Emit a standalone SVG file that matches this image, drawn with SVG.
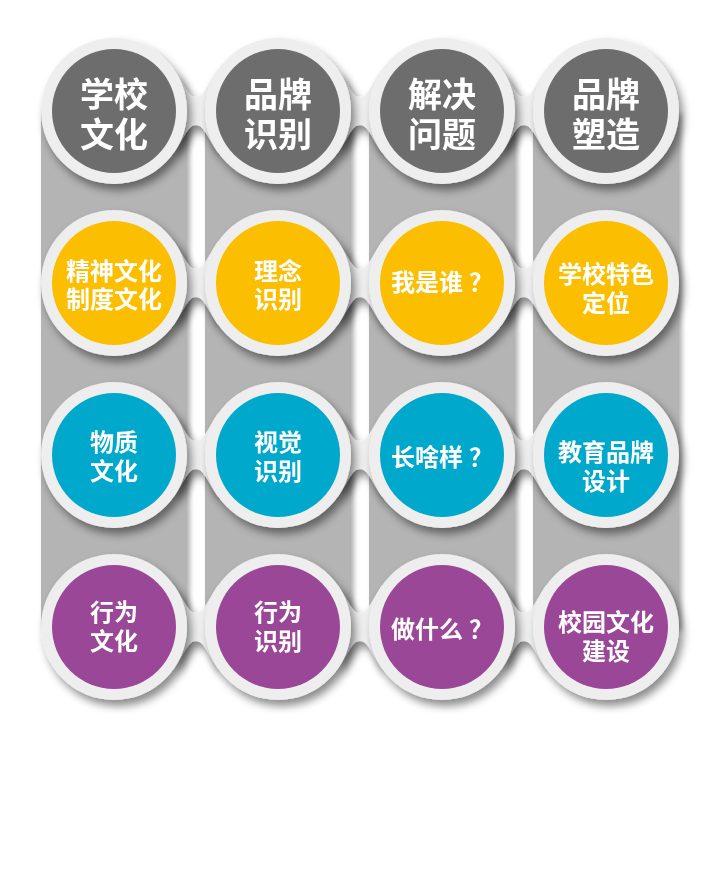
<svg xmlns="http://www.w3.org/2000/svg" xmlns:xlink="http://www.w3.org/1999/xlink" width="720" height="870" viewBox="0 0 720 870">
<style>
.col{fill:#b4b4b4}
.ring{fill:#eeeeee}
.neck{fill:#eeeeee}
.t{font-family:"Noto Sans CJK SC","Noto Sans",sans-serif;font-weight:700;fill:#ffffff;text-anchor:middle;dominant-baseline:central}
.big{font-size:34px}
.sm{font-size:24px}
.gray{fill:#6e6d6d}
.yel{fill:#fbbe00}
.cyan{fill:#00a8cc}
.pur{fill:#9b4797}
</style>
<defs>
<filter id="sh" x="-30%" y="-30%" width="160%" height="160%">
<feDropShadow dx="4" dy="6" stdDeviation="4" flood-color="#000" flood-opacity="0.45"/>
</filter>
<filter id="shc" x="-30%" y="-30%" width="160%" height="160%">
<feDropShadow dx="3" dy="3" stdDeviation="2.5" flood-color="#000" flood-opacity="0.3"/>
</filter>
<path id="neckp" d="M60,-42 C71,-26 74,-14 82,-14 C90,-14 93,-26 104,-42 L104,42 C93,26 90,14 82,14 C74,14 71,26 60,42 Z"/>
</defs>
<rect width="720" height="870" fill="#ffffff"/>
<g id="columns" filter="url(#shc)">
<rect class="col" x="41" y="111" width="146" height="516"/>
<rect class="col" x="205" y="111" width="146" height="516"/>
<rect class="col" x="369" y="111" width="146" height="516"/>
<rect class="col" x="533" y="111" width="146" height="516"/>
</g>
<g id="connectors" filter="url(#sh)">
<use xlink:href="#neckp" href="#neckp" class="neck" transform="translate(114,111)"/>
<use xlink:href="#neckp" href="#neckp" class="neck" transform="translate(278,111)"/>
<use xlink:href="#neckp" href="#neckp" class="neck" transform="translate(442,111)"/>
<use xlink:href="#neckp" href="#neckp" class="neck" transform="translate(114,283)"/>
<use xlink:href="#neckp" href="#neckp" class="neck" transform="translate(278,283)"/>
<use xlink:href="#neckp" href="#neckp" class="neck" transform="translate(442,283)"/>
<use xlink:href="#neckp" href="#neckp" class="neck" transform="translate(114,455)"/>
<use xlink:href="#neckp" href="#neckp" class="neck" transform="translate(278,455)"/>
<use xlink:href="#neckp" href="#neckp" class="neck" transform="translate(442,455)"/>
<use xlink:href="#neckp" href="#neckp" class="neck" transform="translate(114,627)"/>
<use xlink:href="#neckp" href="#neckp" class="neck" transform="translate(278,627)"/>
<use xlink:href="#neckp" href="#neckp" class="neck" transform="translate(442,627)"/>
</g>
<g id="n11" transform="translate(114,111)"><circle class="ring" r="73" filter="url(#sh)"/><circle class="gray" r="62"/><text class="t big" y="-19"><tspan x="0">学校</tspan><tspan x="0" dy="40">文化</tspan></text></g>
<g id="n12" transform="translate(278,111)"><circle class="ring" r="73" filter="url(#sh)"/><circle class="gray" r="62"/><text class="t big" y="-19"><tspan x="0">品牌</tspan><tspan x="0" dy="40">识别</tspan></text></g>
<g id="n13" transform="translate(442,111)"><circle class="ring" r="73" filter="url(#sh)"/><circle class="gray" r="62"/><text class="t big" y="-19"><tspan x="0">解决</tspan><tspan x="0" dy="40">问题</tspan></text></g>
<g id="n14" transform="translate(606,111)"><circle class="ring" r="73" filter="url(#sh)"/><circle class="gray" r="62"/><text class="t big" y="-19"><tspan x="0">品牌</tspan><tspan x="0" dy="40">塑造</tspan></text></g>
<g id="n21" transform="translate(114,283)"><circle class="ring" r="73" filter="url(#sh)"/><circle class="yel" r="62"/><text class="t sm" y="-14"><tspan x="0">精神文化</tspan><tspan x="0" dy="28">制度文化</tspan></text></g>
<g id="n22" transform="translate(278,283)"><circle class="ring" r="73" filter="url(#sh)"/><circle class="yel" r="62"/><text class="t sm" y="-14"><tspan x="0">理念</tspan><tspan x="0" dy="28">识别</tspan></text></g>
<g id="n23" transform="translate(442,283)"><circle class="ring" r="73" filter="url(#sh)"/><circle class="yel" r="62"/><text class="t sm" y="-3">我是谁<tspan dx="6">？</tspan></text></g>
<g id="n24" transform="translate(606,283)"><circle class="ring" r="73" filter="url(#sh)"/><circle class="yel" r="62"/><text class="t sm" y="-11"><tspan x="0">学校特色</tspan><tspan x="0" dy="29">定位</tspan></text></g>
<g id="n31" transform="translate(114,455)"><circle class="ring" r="73" filter="url(#sh)"/><circle class="cyan" r="62"/><text class="t sm" y="-15"><tspan x="0">物质</tspan><tspan x="0" dy="29">文化</tspan></text></g>
<g id="n32" transform="translate(278,455)"><circle class="ring" r="73" filter="url(#sh)"/><circle class="cyan" r="62"/><text class="t sm" y="-15"><tspan x="0">视觉</tspan><tspan x="0" dy="29">识别</tspan></text></g>
<g id="n33" transform="translate(442,455)"><circle class="ring" r="73" filter="url(#sh)"/><circle class="cyan" r="62"/><text class="t sm" y="0">长啥样<tspan dx="6">？</tspan></text></g>
<g id="n34" transform="translate(606,455)"><circle class="ring" r="73" filter="url(#sh)"/><circle class="cyan" r="62"/><text class="t sm" y="-5"><tspan x="0">教育品牌</tspan><tspan x="0" dy="29">设计</tspan></text></g>
<g id="n41" transform="translate(114,627)"><circle class="ring" r="73" filter="url(#sh)"/><circle class="pur" r="62"/><text class="t sm" y="-17"><tspan x="0">行为</tspan><tspan x="0" dy="29">文化</tspan></text></g>
<g id="n42" transform="translate(278,627)"><circle class="ring" r="73" filter="url(#sh)"/><circle class="pur" r="62"/><text class="t sm" y="-17"><tspan x="0">行为</tspan><tspan x="0" dy="29">识别</tspan></text></g>
<g id="n43" transform="translate(442,627)"><circle class="ring" r="73" filter="url(#sh)"/><circle class="pur" r="62"/><text class="t sm" y="0">做什么<tspan dx="6">？</tspan></text></g>
<g id="n44" transform="translate(606,627)"><circle class="ring" r="73" filter="url(#sh)"/><circle class="pur" r="62"/><text class="t sm" y="-7"><tspan x="0">校园文化</tspan><tspan x="0" dy="29">建设</tspan></text></g>
</svg>
